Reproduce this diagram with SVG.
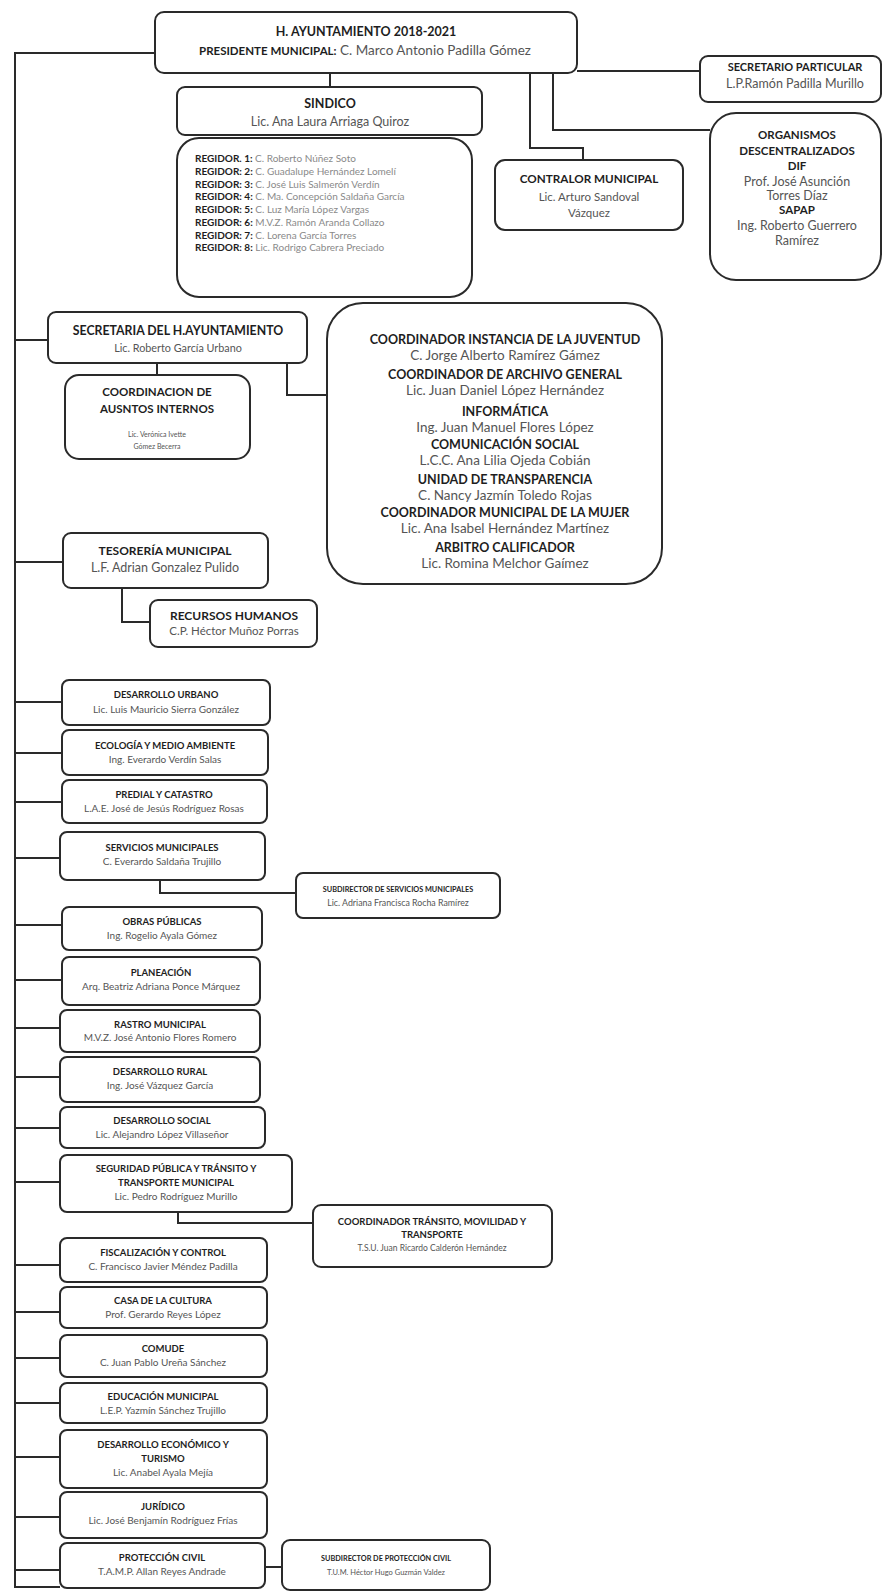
<svg xmlns="http://www.w3.org/2000/svg" width="883" height="1591" viewBox="0 0 883 1591">
<style>
.box{fill:#fff;stroke:#2a2a2a;stroke-width:2}
.ln{fill:none;stroke:#2a2a2a;stroke-width:2}
text{font-family:Lato,"Liberation Sans",sans-serif;text-anchor:middle;fill:#1e1e1e}
.b{font-weight:bold}
.n{fill:#555}
.lt{fill:#8a8a8a}
.d{font-size:9.5px}
.dn{font-size:10px}
.r{font-size:10px;text-anchor:start}
.h12{font-size:12.5px}
.m13{font-size:13.5px}
</style>
<rect width="883" height="1591" fill="#fff"/>
<g id="connectors">
<path class="ln" d="M155,53 H15 V1587 H60"/>
<path class="ln" d="M330,73 V87"/>
<path class="ln" d="M577,71 H700"/>
<path class="ln" d="M530,73 V148 H583 V160"/>
<path class="ln" d="M553,73 V130 H710"/>
<path class="ln" d="M15,340 H48"/>
<path class="ln" d="M157,363 V375"/>
<path class="ln" d="M287,363 V395 H327"/>
<path class="ln" d="M15,562 H63"/>
<path class="ln" d="M122,588 V622 H150"/>
<path class="ln" d="M15,702 H62 M15,753 H62 M15,802 H62 M15,858 H60 M15,925 H62 M15,980 H62 M15,1028 H60 M15,1077 H60 M15,1128 H60 M15,1182 H60 M15,1265 H60 M15,1312 H60 M15,1358 H60 M15,1403 H60 M15,1457 H60 M15,1517 H60 M15,1570 H60"/>
<path class="ln" d="M160,880 V893 H296"/>
<path class="ln" d="M178,1212 V1223 H313"/>
<path class="ln" d="M265,1567 H282"/>
</g>
<g id="presidente">
<rect class="box" x="155" y="12" width="422" height="61" rx="9"/>
<text class="b" style="font-size:12.5px" x="366" y="36">H. AYUNTAMIENTO 2018-2021</text>
<text x="365" y="55"><tspan class="b" style="font-size:11.5px">PRESIDENTE MUNICIPAL:</tspan><tspan class="n" style="font-size:13.5px"> C. Marco Antonio Padilla Gómez</tspan></text>
</g>
<g id="secretario-particular">
<rect class="box" x="700" y="56" width="181" height="46" rx="8"/>
<text class="b" style="font-size:11px" x="795" y="71">SECRETARIO PARTICULAR</text>
<text class="n" style="font-size:12.5px" x="795" y="88">L.P.Ramón Padilla Murillo</text>
</g>
<g id="sindico">
<rect class="box" x="177" y="87" width="305" height="48" rx="8"/>
<text class="b h12" x="330" y="108">SINDICO</text>
<text class="n h12" x="330" y="126">Lic. Ana Laura Arriaga Quiroz</text>
</g>
<g id="regidores">
<rect class="box" x="177" y="138" width="295" height="159" rx="22"/>
<text class="r" x="195" y="162"><tspan class="b">REGIDOR. 1:</tspan><tspan class="lt"> C. Roberto Núñez Soto</tspan></text>
<text class="r" x="195" y="175"><tspan class="b">REGIDOR: 2:</tspan><tspan class="lt"> C. Guadalupe Hernández Lomelí</tspan></text>
<text class="r" x="195" y="188"><tspan class="b">REGIDOR: 3:</tspan><tspan class="lt"> C. José Luis Salmerón Verdín</tspan></text>
<text class="r" x="195" y="200"><tspan class="b">REGIDOR: 4:</tspan><tspan class="lt"> C. Ma. Concepción Saldaña García</tspan></text>
<text class="r" x="195" y="213"><tspan class="b">REGIDOR: 5:</tspan><tspan class="lt"> C. Luz María López Vargas</tspan></text>
<text class="r" x="195" y="226"><tspan class="b">REGIDOR: 6:</tspan><tspan class="lt"> M.V.Z. Ramón Aranda Collazo</tspan></text>
<text class="r" x="195" y="239"><tspan class="b">REGIDOR: 7:</tspan><tspan class="lt"> C. Lorena García Torres</tspan></text>
<text class="r" x="195" y="251"><tspan class="b">REGIDOR: 8:</tspan><tspan class="lt"> Lic. Rodrigo Cabrera Preciado</tspan></text>
</g>
<g id="contralor">
<rect class="box" x="495" y="160" width="188" height="70" rx="10"/>
<text class="b" style="font-size:11.7px" x="589" y="183">CONTRALOR MUNICIPAL</text>
<text class="n" style="font-size:11.5px" x="589" y="201">Lic. Arturo Sandoval</text>
<text class="n" style="font-size:11.5px" x="589" y="217">Vázquez</text>
</g>
<g id="organismos">
<rect class="box" x="710" y="113" width="171" height="167" rx="26"/>
<text class="b" style="font-size:11.5px" x="797" y="139">ORGANISMOS</text>
<text class="b" style="font-size:11.5px" x="797" y="155">DESCENTRALIZADOS</text>
<text class="b" style="font-size:11.5px" x="797" y="170">DIF</text>
<text class="n" style="font-size:12.5px" x="797" y="186">Prof. José Asunción</text>
<text class="n" style="font-size:12.5px" x="797" y="200">Torres Díaz</text>
<text class="b" style="font-size:11.5px" x="797" y="214">SAPAP</text>
<text class="n" style="font-size:12.5px" x="797" y="230">Ing. Roberto Guerrero</text>
<text class="n" style="font-size:12.5px" x="797" y="245">Ramírez</text>
</g>
<g id="secretaria">
<rect class="box" x="48" y="312" width="259" height="51" rx="8"/>
<text class="b" style="font-size:12.3px" x="178" y="335">SECRETARIA DEL H.AYUNTAMIENTO</text>
<text class="n" style="font-size:10.8px" x="178" y="352">Lic. Roberto García Urbano</text>
</g>
<g id="asuntos-internos">
<rect class="box" x="65" y="375" width="185" height="84" rx="14"/>
<text class="b" style="font-size:11.5px" x="157" y="396">COORDINACION DE</text>
<text class="b" style="font-size:11.5px" x="157" y="413">AUSNTOS INTERNOS</text>
<text class="n" style="font-size:7px" x="157" y="437">Lic. Verónica Ivette</text>
<text class="n" style="font-size:7px" x="157" y="449">Gómez Becerra</text>
</g>
<g id="coordinaciones">
<rect class="box" x="327" y="303" width="335" height="281" rx="36"/>
<text class="b h12" x="505" y="344">COORDINADOR INSTANCIA DE LA JUVENTUD</text>
<text class="n m13" x="505" y="360">C. Jorge Alberto Ramírez Gámez</text>
<text class="b h12" x="505" y="379">COORDINADOR DE ARCHIVO GENERAL</text>
<text class="n m13" x="505" y="395">Lic. Juan Daniel López Hernández</text>
<text class="b h12" x="505" y="416">INFORMÁTICA</text>
<text class="n m13" x="505" y="432">Ing. Juan Manuel Flores López</text>
<text class="b h12" x="505" y="449">COMUNICACIÓN SOCIAL</text>
<text class="n m13" x="505" y="465">L.C.C. Ana Lilia Ojeda Cobián</text>
<text class="b h12" x="505" y="484">UNIDAD DE TRANSPARENCIA</text>
<text class="n m13" x="505" y="500">C. Nancy Jazmín Toledo Rojas</text>
<text class="b h12" x="505" y="517">COORDINADOR MUNICIPAL DE LA MUJER</text>
<text class="n m13" x="505" y="533">Lic. Ana Isabel Hernández Martínez</text>
<text class="b h12" x="505" y="552">ARBITRO CALIFICADOR</text>
<text class="n m13" x="505" y="568">Lic. Romina Melchor Gaímez</text>
</g>
<g id="tesoreria">
<rect class="box" x="63" y="533" width="205" height="55" rx="8"/>
<text class="b" style="font-size:12px" x="165" y="555">TESORERÍA MUNICIPAL</text>
<text class="n" style="font-size:12.5px" x="165" y="572">L.F. Adrian Gonzalez Pulido</text>
</g>
<g id="recursos-humanos">
<rect class="box" x="150" y="600" width="167" height="47" rx="8"/>
<text class="b" style="font-size:12px" x="234" y="620">RECURSOS HUMANOS</text>
<text class="n" style="font-size:11.5px" x="234" y="635">C.P. Héctor Muñoz Porras</text>
</g>
<g id="desarrollo-urbano">
<rect class="box" x="62" y="680" width="208" height="45" rx="7"/>
<text class="b d" x="166" y="698">DESARROLLO URBANO</text>
<text class="n dn" x="166" y="713">Lic. Luis Mauricio Sierra González</text>
</g>
<g id="ecologia">
<rect class="box" x="62" y="730" width="206" height="45" rx="7"/>
<text class="b d" x="165" y="749">ECOLOGÍA Y MEDIO AMBIENTE</text>
<text class="n dn" x="165" y="763">Ing. Everardo Verdín Salas</text>
</g>
<g id="predial">
<rect class="box" x="62" y="780" width="205" height="43" rx="7"/>
<text class="b d" x="164" y="798">PREDIAL Y CATASTRO</text>
<text class="n dn" x="164" y="812">L.A.E. José de Jesús Rodríguez Rosas</text>
</g>
<g id="servicios">
<rect class="box" x="60" y="832" width="205" height="48" rx="7"/>
<text class="b d" x="162" y="851">SERVICIOS MUNICIPALES</text>
<text class="n dn" x="162" y="865">C. Everardo Saldaña Trujillo</text>
</g>
<g id="subdirector-servicios">
<rect class="box" x="296" y="873" width="204" height="45" rx="7"/>
<text class="b" style="font-size:7.3px" x="398" y="892">SUBDIRECTOR DE SERVICIOS MUNICIPALES</text>
<text class="n" style="font-size:8.8px" x="398" y="906">Lic. Adriana Francisca Rocha Ramírez</text>
</g>
<g id="obras">
<rect class="box" x="62" y="907" width="200" height="43" rx="7"/>
<text class="b d" x="162" y="925">OBRAS PÚBLICAS</text>
<text class="n dn" x="162" y="939">Ing. Rogelio Ayala Gómez</text>
</g>
<g id="planeacion">
<rect class="box" x="62" y="957" width="198" height="48" rx="7"/>
<text class="b d" x="161" y="976">PLANEACIÓN</text>
<text class="n dn" x="161" y="990">Arq. Beatriz Adriana Ponce Márquez</text>
</g>
<g id="rastro">
<rect class="box" x="60" y="1010" width="200" height="42" rx="7"/>
<text class="b d" x="160" y="1028">RASTRO MUNICIPAL</text>
<text class="n dn" x="160" y="1041">M.V.Z. José Antonio Flores Romero</text>
</g>
<g id="desarrollo-rural">
<rect class="box" x="60" y="1057" width="200" height="45" rx="7"/>
<text class="b d" x="160" y="1075">DESARROLLO RURAL</text>
<text class="n dn" x="160" y="1089">Ing. José Vázquez García</text>
</g>
<g id="desarrollo-social">
<rect class="box" x="60" y="1107" width="205" height="41" rx="7"/>
<text class="b d" x="162" y="1124">DESARROLLO SOCIAL</text>
<text class="n dn" x="162" y="1138">Lic. Alejandro López Villaseñor</text>
</g>
<g id="seguridad">
<rect class="box" x="60" y="1155" width="232" height="57" rx="7"/>
<text class="b d" x="176" y="1172">SEGURIDAD PÚBLICA Y TRÁNSITO Y</text>
<text class="b d" x="176" y="1186">TRANSPORTE MUNICIPAL</text>
<text class="n dn" x="176" y="1200">Lic. Pedro Rodríguez Murillo</text>
</g>
<g id="coord-transito">
<rect class="box" x="313" y="1205" width="239" height="62" rx="8"/>
<text class="b d" x="432" y="1225">COORDINADOR TRÁNSITO, MOVILIDAD Y</text>
<text class="b d" x="432" y="1238">TRANSPORTE</text>
<text class="n" style="font-size:8.5px" x="432" y="1251">T.S.U. Juan Ricardo Calderón Hernández</text>
</g>
<g id="fiscalizacion">
<rect class="box" x="60" y="1238" width="207" height="44" rx="7"/>
<text class="b d" x="163" y="1256">FISCALIZACIÓN Y CONTROL</text>
<text class="n dn" x="163" y="1270">C. Francisco Javier Méndez Padilla</text>
</g>
<g id="cultura">
<rect class="box" x="60" y="1287" width="207" height="41" rx="7"/>
<text class="b d" x="163" y="1304">CASA DE LA CULTURA</text>
<text class="n dn" x="163" y="1318">Prof. Gerardo Reyes López</text>
</g>
<g id="comude">
<rect class="box" x="60" y="1335" width="207" height="42" rx="7"/>
<text class="b d" x="163" y="1352">COMUDE</text>
<text class="n dn" x="163" y="1366">C. Juan Pablo Ureña Sánchez</text>
</g>
<g id="educacion">
<rect class="box" x="60" y="1383" width="207" height="40" rx="7"/>
<text class="b d" x="163" y="1400">EDUCACIÓN MUNICIPAL</text>
<text class="n dn" x="163" y="1414">L.E.P. Yazmín Sánchez Trujillo</text>
</g>
<g id="desarrollo-economico">
<rect class="box" x="60" y="1430" width="207" height="58" rx="7"/>
<text class="b d" x="163" y="1448">DESARROLLO ECONÓMICO Y</text>
<text class="b d" x="163" y="1462">TURISMO</text>
<text class="n dn" x="163" y="1476">Lic. Anabel Ayala Mejía</text>
</g>
<g id="juridico">
<rect class="box" x="60" y="1492" width="207" height="46" rx="7"/>
<text class="b d" x="163" y="1510">JURÍDICO</text>
<text class="n dn" x="163" y="1524">Lic. José Benjamín Rodríguez Frías</text>
</g>
<g id="proteccion-civil">
<rect class="box" x="60" y="1543" width="205" height="45" rx="7"/>
<text class="b d" x="162" y="1561">PROTECCIÓN CIVIL</text>
<text class="n dn" x="162" y="1575">T.A.M.P. Allan Reyes Andrade</text>
</g>
<g id="subdirector-proteccion">
<rect class="box" x="282" y="1540" width="208" height="50" rx="8"/>
<text class="b" style="font-size:7.3px" x="386" y="1561">SUBDIRECTOR DE PROTECCIÓN CIVIL</text>
<text class="n" style="font-size:7.5px" x="386" y="1575">T.U.M. Héctor Hugo Guzmán Valdez</text>
</g>
</svg>
